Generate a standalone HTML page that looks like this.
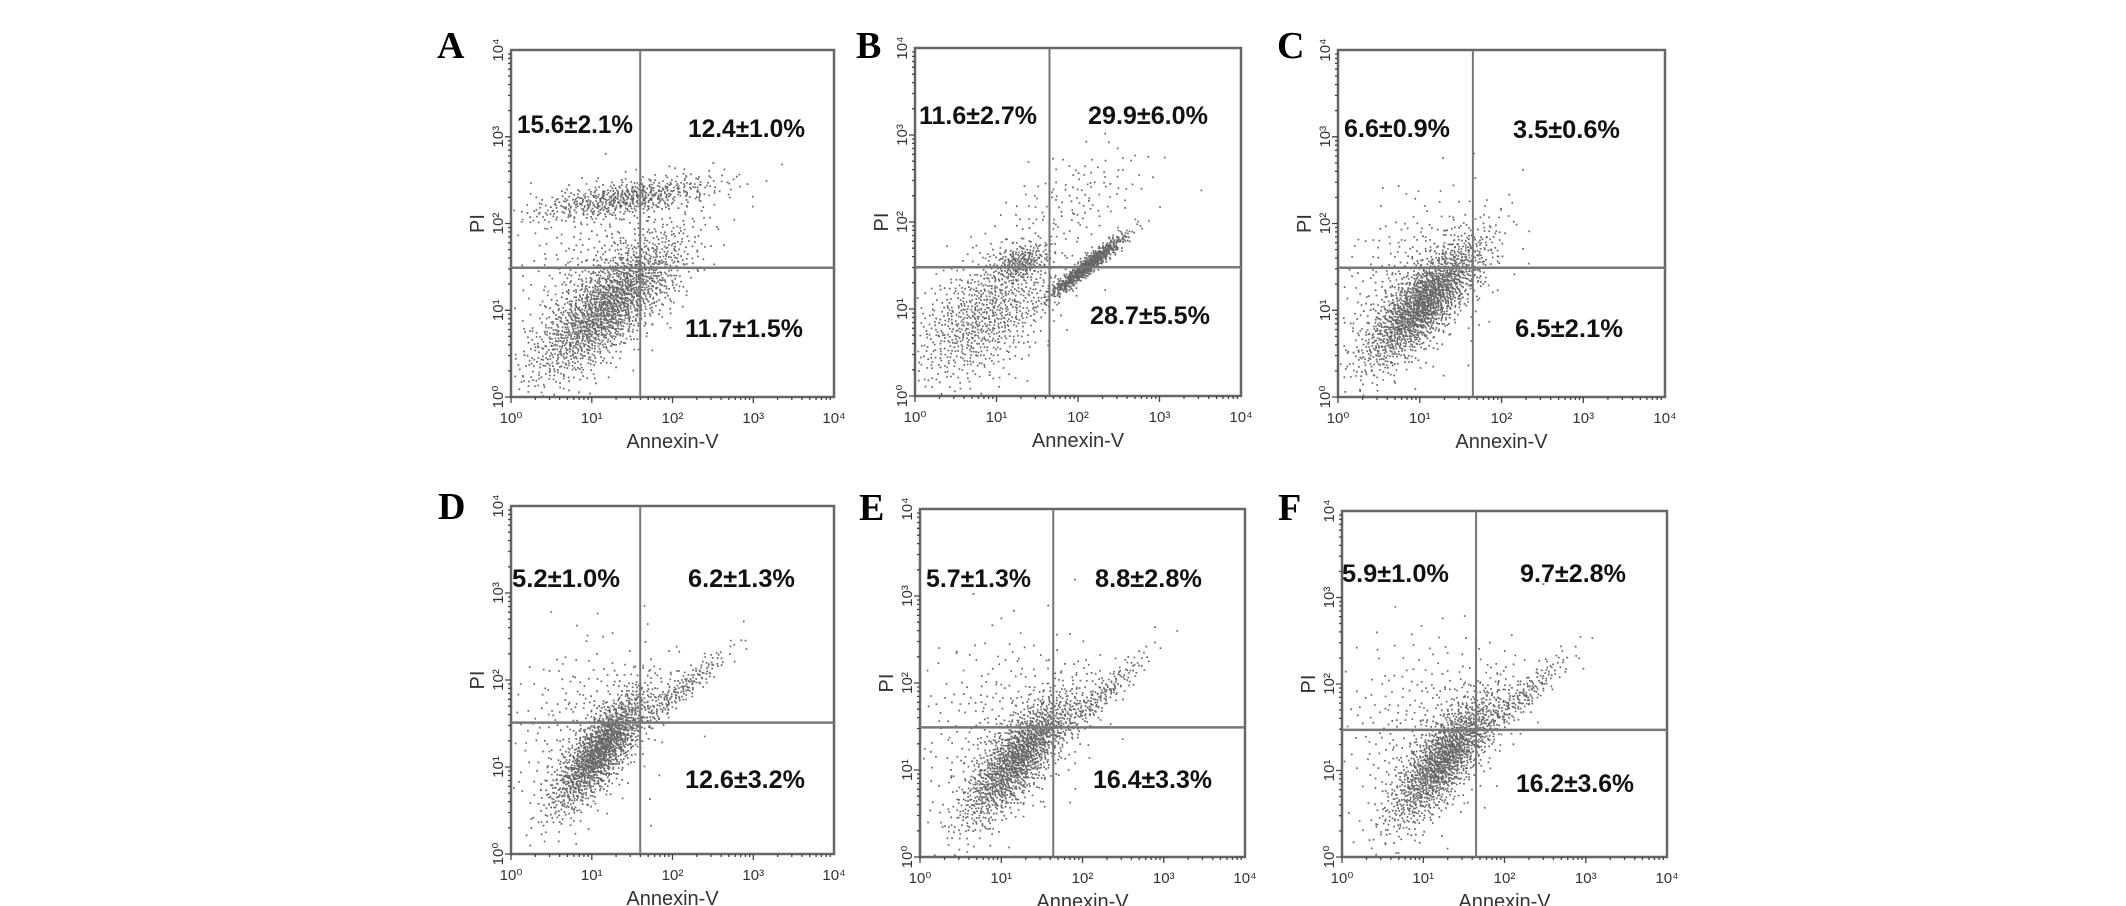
<!DOCTYPE html>
<html><head><meta charset="utf-8"><style>
html,body{margin:0;padding:0;background:#fff;}
svg{display:block;}
</style></head><body>
<svg id="fig" xmlns="http://www.w3.org/2000/svg" width="2126" height="906" viewBox="0 0 2126 906"></svg>
<script>
// panel labels
const panelIds = ["A","B","C","D","E","F"];
// quadrant percentages: [upper-left, upper-right, lower-right]
const quadUL = ["15.6\u00B12.1%","11.6\u00B12.7%","6.6\u00B10.9%","5.2\u00B11.0%","5.7\u00B11.3%","5.9\u00B11.0%"];
const quadUR = ["12.4\u00B11.0%","29.9\u00B16.0%","3.5\u00B10.6%","6.2\u00B11.3%","8.8\u00B12.8%","9.7\u00B12.8%"];
const quadLR = ["11.7\u00B11.5%","28.7\u00B15.5%","6.5\u00B12.1%","12.6\u00B13.2%","16.4\u00B13.3%","16.2\u00B13.6%"];
// quadrant gate positions in log decades (x: Annexin-V, y: PI)
const gateX = [1.6,1.65,1.65,1.6,1.64,1.65];
const gateY = [1.49,1.48,1.49,1.51,1.49,1.47];
const tickLabels = ["10\u2070","10\u00B9","10\u00B2","10\u00B3","10\u2074"];
// point-cloud clusters per panel: [centerX, centerY, sdMajor, sdMinor, angleDeg, count] in decades
const clustersA = [[1.2,1.05,0.6,0.22,40,1800],[1.4,2.3,0.6,0.1,8,600],[1.1,1.5,0.6,0.4,35,300]];
const clustersB = [[2.1,1.5,0.3,0.045,37,700],[0.85,0.95,0.55,0.3,40,900],[1.3,1.55,0.18,0.1,20,200],[2.0,2.3,0.5,0.25,25,120]];
const clustersC = [[1.05,1.1,0.5,0.17,45,1700],[0.9,1.3,0.6,0.4,50,350]];
const clustersD = [[1.1,1.2,0.45,0.15,50,1500],[2.1,1.9,0.4,0.07,38,200],[0.9,1.5,0.55,0.45,45,250]];
const clustersE = [[1.2,1.15,0.5,0.17,48,1500],[2.2,1.85,0.4,0.08,40,200],[1.0,1.5,0.6,0.5,45,300]];
const clustersF = [[1.25,1.15,0.5,0.17,50,1500],[2.2,1.85,0.4,0.08,40,200],[1.0,1.5,0.6,0.5,45,300]];
const allClusters = [clustersA,clustersB,clustersC,clustersD,clustersE,clustersF];

// layout (pixels)
const boxes = [
 {x0:511,x1:834,y0:50,y1:397, lx:437,ly:58},
 {x0:915,x1:1241,y0:48,y1:396, lx:856,ly:58},
 {x0:1338,x1:1665,y0:50,y1:397, lx:1277,ly:58},
 {x0:511,x1:834,y0:506,y1:854, lx:438,ly:519},
 {x0:920,x1:1245,y0:509,y1:857, lx:859,ly:520},
 {x0:1342,x1:1667,y0:511,y1:857, lx:1278,ly:520}
];
// text boxes [xStart, xEnd, baseline] for UL, UR, LR
const textPos = [
 [[517,633,133],[688,805,137],[685,803,337]],
 [[919,1037,124],[1088,1208,124],[1090,1210,324]],
 [[1344,1450,137],[1513,1620,138],[1515,1623,337]],
 [[512,620,587],[688,795,587],[685,805,788]],
 [[926,1031,587],[1095,1202,587],[1093,1212,788]],
 [[1342,1449,582],[1520,1626,582],[1516,1634,792]]
];
const NS="http://www.w3.org/2000/svg";
const svg=document.getElementById('fig');
function mk(tag,attrs,parent){const e=document.createElementNS(NS,tag);for(const k in attrs)e.setAttribute(k,attrs[k]);(parent||svg).appendChild(e);return e;}
function halton(i,b){let f=1,r=0;while(i>0){f/=b;r+=f*(i%b);i=Math.floor(i/b);}return r;}

panelIds.forEach((pid,p)=>{
  const b=boxes[p];
  const g=mk('g',{});
  
  
  const sx=d=>b.x0+(b.x1-b.x0)*d/4;
  const sy=d=>b.y1-(b.y1-b.y0)*d/4;
  let dstr='';
  let idx=1+p*7919;
  allClusters[p].forEach(c=>{
    const [cx,cy,s1,s2,ang,n]=c;const a=ang*Math.PI/180;
    for(let i=0;i<n;i++){
      idx++;
      const u1=Math.max(1e-6,halton(idx,2)),u2=halton(idx,3);
      const r=Math.sqrt(-2*Math.log(u1));
      const z1=r*Math.cos(2*Math.PI*u2),z2=r*Math.sin(2*Math.PI*u2);
      const dx=z1*s1,dy=z2*s2;
      const X=cx+dx*Math.cos(a)-dy*Math.sin(a),Y=cy+dx*Math.sin(a)+dy*Math.cos(a);
      if(X<0.02||X>3.98||Y<0.02||Y>3.98)continue;
      dstr+='M'+sx(X).toFixed(1)+' '+sy(Y).toFixed(1)+'h1.7v1.7h-1.7z';
    }
  });
  const pts=mk('path',{d:dstr,fill:'#000','fill-opacity':'0.6'},g);
  
  
  const fr=mk('rect',{x:b.x0,y:b.y0,width:b.x1-b.x0,height:b.y1-b.y0,fill:'none',stroke:'#666','stroke-width':2.5},g);
  
  
  const vl=mk('line',{x1:sx(gateX[p]),x2:sx(gateX[p]),y1:b.y0,y2:b.y1,stroke:'#777','stroke-width':2},g);
  
  
  const hl=mk('line',{x1:b.x0,x2:b.x1,y1:sy(gateY[p]),y2:sy(gateY[p]),stroke:'#777','stroke-width':2.5},g);
  
  
  let tk='';
  for(let d=0;d<4;d++)for(let m=1;m<10;m++){
    const v=d+Math.log10(m);
    const L=m===1?6:3;
    tk+='M'+sx(v).toFixed(1)+' '+b.y1+'v'+L;
    tk+='M'+b.x0+' '+sy(v).toFixed(1)+'h-'+L;
  }
  mk('path',{d:tk,stroke:'#444','stroke-width':1.3,fill:'none'},g);
  tickLabels.forEach((t,i)=>{
    const tx=mk('text',{x:sx(i),y:b.y1+26,'font-size':15,'text-anchor':'middle','font-family':'Liberation Sans, sans-serif',fill:'#333'},g);
    tx.textContent=t;
    
    
    const ty=mk('text',{x:0,y:0,'font-size':15,'text-anchor':'middle','font-family':'Liberation Sans, sans-serif',fill:'#333',transform:'translate('+(b.x0-8)+','+sy(i)+') rotate(-90)'},g);
    ty.textContent=t;
    
    
  });
  const xt=mk('text',{x:(b.x0+b.x1)/2,y:b.y1+51,'font-size':20,'text-anchor':'middle','font-family':'Liberation Sans, sans-serif',fill:'#333'},g);
  xt.textContent='Annexin-V';
  
  
  const yt=mk('text',{x:0,y:0,'font-size':20,'text-anchor':'middle','font-family':'Liberation Sans, sans-serif',fill:'#333',transform:'translate('+(b.x0-27)+','+((b.y0+b.y1)/2)+') rotate(-90)'},g);
  yt.textContent='PI';
  
  
  const pl=mk('text',{x:b.lx,y:b.ly,'font-size':38,'font-weight':'bold','font-family':'Liberation Serif, serif',fill:'#000'},g);
  pl.textContent=pid;
  
  
  [quadUL[p],quadUR[p],quadLR[p]].forEach((s,q)=>{
    const tp=textPos[p][q];
    const t=mk('text',{x:tp[0],y:tp[2],'font-size':25,'font-weight':'bold','font-family':'Liberation Sans, sans-serif',fill:'#111',textLength:tp[1]-tp[0],lengthAdjust:'spacingAndGlyphs'},g);
    t.textContent=s;
    
    
  });
});
</script>
</body></html>
